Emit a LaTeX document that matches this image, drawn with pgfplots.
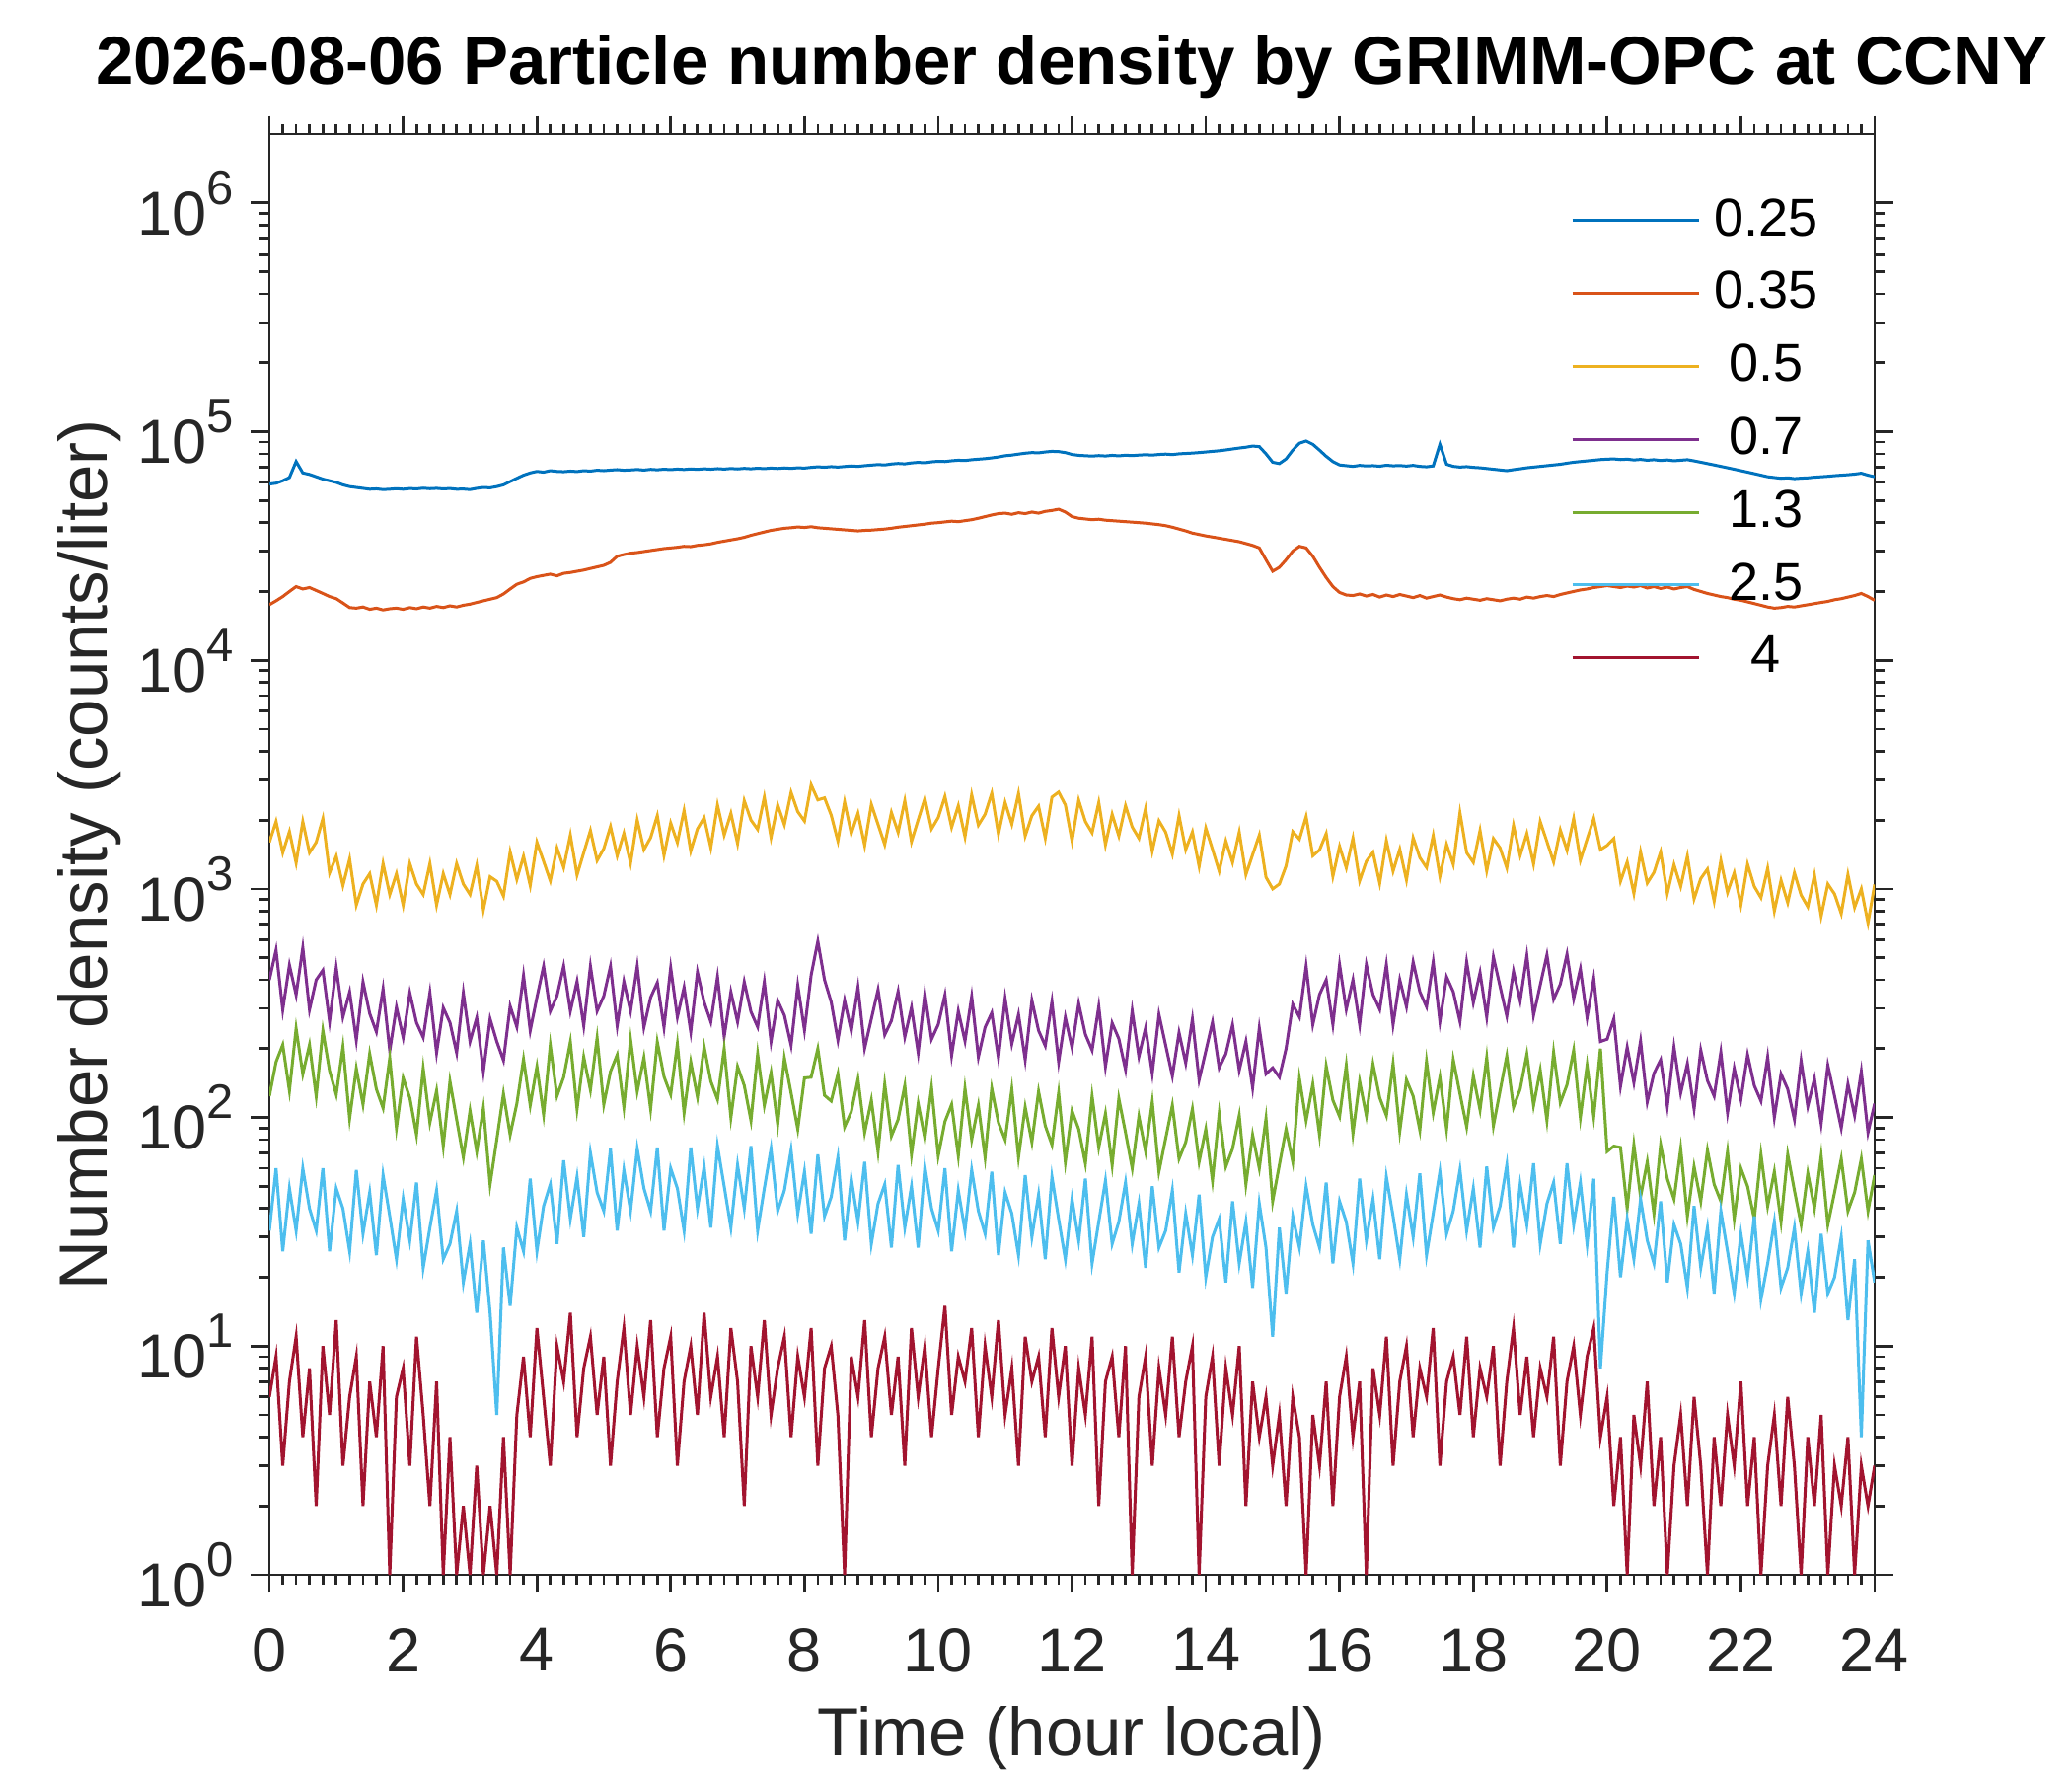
\documentclass[border=0pt]{standalone}
\usepackage{fontspec}
\setmainfont{Liberation Sans}
\usepackage{pgfplots}
\usepackage{pgfplotstable}
\pgfplotsset{compat=1.18}
\definecolor{c1}{rgb}{0,0.447,0.741}
\definecolor{c2}{rgb}{0.85,0.325,0.098}
\definecolor{c3}{rgb}{0.929,0.694,0.125}
\definecolor{c4}{rgb}{0.494,0.184,0.556}
\definecolor{c5}{rgb}{0.466,0.674,0.188}
\definecolor{c6}{rgb}{0.301,0.745,0.933}
\definecolor{c7}{rgb}{0.635,0.078,0.184}
\definecolor{axc}{rgb}{0.15,0.15,0.15}
\pgfplotstableread{
t B O Y P G C R
0.0 59000 17500 1600 400 124 32 6
0.1 59500 18200 1970 540 175 60 9
0.2 61000 19000 1440 296 208 26 3
0.3 63000 20000 1780 464 131 49 7
0.4 74000 21000 1300 344 245 32 11
0.5 66000 20500 1970 553 155 60 4
0.6 65000 20800 1440 296 208 40 8
0.7 63500 20200 1600 400 124 32 2
0.8 62000 19600 2030 441 240 60 10
0.9 61000 19000 1175 263 160 26 5
1.0 60000 18600 1390 452 126 49 13
1.1 58500 17800 1035 275 204 40 3
1.2 57500 17000 1350 354 99 26 6
1.3 57000 16900 850 218 164 59 9
1.4 56500 17100 1050 392 114 31 2
1.5 56000 16700 1165 285 190 47 7
1.6 56200 16900 850 237 133 25 4
1.7 55800 16600 1290 365 110 56 10
1.8 56000 16800 945 196 182 37 1
1.9 56300 16900 1165 304 90 24 6
2.0 56000 16700 850 224 149 44 8
2.1 56400 17000 1290 351 122 29 3
2.2 56200 16800 1050 260 84 52 11
2.3 56600 17100 945 224 164 22 5
2.4 56300 16900 1290 351 95 33 2
2.5 56500 17200 850 192 131 48 7
2.6 56200 17000 1165 302 75 24 1
2.7 56400 17300 945 260 144 28 4
2.8 56000 17100 1290 192 98 39 1
2.9 56100 17400 1050 351 67 19 2
3.0 55800 17600 945 215 107 28 1
3.1 56500 17900 1265 273 71 14 3
3.2 57000 18200 810 159 110 29 1
3.3 56800 18500 1130 270 51 14 2
3.4 57500 18800 1080 215 80 5 1
3.5 58500 19500 930 178 127 27 4
3.6 60500 20500 1450 307 84 15 1
3.7 62500 21500 1100 249 115 33 5
3.8 64500 22000 1390 418 180 26 9
3.9 66000 22800 1035 240 113 54 4
4.0 67000 23200 1600 335 167 26 12
4.1 66500 23500 1320 459 103 41 6
4.2 67500 23800 1085 292 207 51 3
4.3 67000 23400 1510 340 124 28 10
4.4 66800 24000 1240 459 150 65 7
4.5 67200 24200 1720 292 214 36 14
4.6 66900 24500 1150 394 109 55 4
4.7 67500 24800 1440 252 184 30 8
4.8 67200 25200 1800 459 132 70 11
4.9 67800 25600 1330 292 223 47 5
5.0 67500 26000 1500 340 114 39 9
5.1 67900 26800 1875 459 159 73 3
5.2 68200 28500 1395 252 188 32 7
5.3 67800 29000 1750 394 111 59 12
5.4 68000 29400 1295 292 220 39 5
5.5 68300 29600 2000 459 130 73 10
5.6 67900 29900 1485 248 183 49 6
5.7 68400 30200 1675 335 109 39 13
5.8 68100 30500 2090 389 214 74 4
5.9 68500 30800 1400 248 151 32 8
6.0 68200 31000 1940 452 126 60 11
6.1 68600 31200 1595 275 210 49 3
6.2 68300 31500 2200 371 105 32 7
6.3 68700 31400 1465 237 175 74 10
6.4 68400 31800 1830 432 123 40 5
6.5 68800 32000 2050 320 204 61 14
6.6 68500 32300 1515 262 144 33 6
6.7 68900 32800 2325 412 120 75 9
6.8 68600 33200 1720 226 200 50 4
6.9 69000 33600 2140 354 100 33 12
7.0 68700 34000 1580 262 167 62 7
7.1 69100 34500 2430 392 138 40 2
7.2 68800 35200 2000 290 97 75 10
7.3 69200 35800 1820 249 190 32 6
7.4 68900 36400 2520 392 113 49 13
7.5 69300 37000 1680 215 157 73 5
7.6 69000 37400 2330 325 93 39 8
7.7 69400 37800 1910 280 182 48 11
7.8 69100 38000 2640 207 128 72 4
7.9 69500 38300 2175 378 89 38 9
8.0 69300 38100 1980 241 149 58 6
8.1 69800 38400 2850 420 150 31 12
8.2 70200 38000 2450 590 200 69 3
8.3 69900 37800 2500 400 125 37 8
8.4 70300 37600 2100 320 118 45 10
8.5 70000 37400 1620 218 155 67 5
8.6 70400 37200 2400 325 91 29 1
8.7 70800 37000 1745 239 106 54 9
8.8 70500 36800 2140 371 147 35 6
8.9 71000 37000 1550 201 86 64 13
9.0 71400 37100 2340 270 119 28 4
9.1 71800 37300 1915 362 71 42 8
9.2 71500 37500 1565 230 140 51 11
9.3 72200 37800 2160 265 83 27 5
9.4 72600 38200 1765 356 98 62 9
9.5 72300 38500 2430 225 138 33 3
9.6 73000 38800 1610 303 69 50 12
9.7 73400 39100 2005 192 115 27 6
9.8 73100 39400 2485 348 81 61 10
9.9 73800 39800 1830 220 135 40 4
10.0 74200 40000 2050 255 68 32 8
10.1 74000 40300 2535 343 96 60 15
10.2 74600 40600 1860 187 114 26 5
10.3 75000 40400 2310 292 68 48 9
10.4 74800 40800 1690 216 134 32 7
10.5 75400 41200 2580 338 80 59 12
10.6 75800 41800 1900 184 113 39 4
10.7 76200 42500 2120 248 67 31 10
10.8 76800 43200 2620 287 134 58 6
10.9 77500 43800 1735 182 95 25 13
11.0 78500 44000 2385 331 80 47 5
11.1 79000 43500 1920 210 133 38 8
11.2 79800 44200 2610 282 67 25 3
11.3 80500 43800 1705 179 111 56 11
11.4 81000 44500 2090 325 78 30 7
11.5 80800 44000 2300 240 130 46 9
11.6 81500 44800 1670 206 92 24 4
11.7 82000 45200 2520 321 76 55 12
11.8 81800 45800 2650 175 128 36 6
11.9 81000 44500 2330 274 64 24 10
12.0 79500 42500 1620 202 107 44 3
12.1 78800 41800 2440 315 89 29 8
12.2 78500 41500 1970 231 63 54 5
12.3 78200 41200 1760 197 124 23 11
12.4 78600 41400 2385 306 74 35 2
12.5 78300 41000 1560 167 104 53 7
12.6 78800 40800 2120 259 62 28 9
12.7 78400 40600 1705 221 121 35 4
12.8 78900 40400 2310 162 86 52 10
12.9 78600 40200 1865 293 60 28 1
13.0 79000 40000 1665 185 101 42 6
13.1 79300 39800 2250 247 71 22 9
13.2 79000 39500 1465 156 117 50 3
13.3 79500 39200 1985 282 58 27 8
13.4 79800 38800 1770 207 81 32 5
13.5 79400 38200 1420 152 113 48 11
13.6 80000 37500 2090 235 66 21 4
13.7 80300 36800 1485 173 78 38 7
13.8 80600 36000 1775 269 109 25 10
13.9 81000 35500 1255 146 64 46 1
14.0 81500 35000 1845 195 89 20 6
14.1 82000 34600 1490 261 53 30 9
14.2 82500 34200 1195 165 104 36 3
14.3 83200 33800 1620 190 61 19 8
14.4 84000 33400 1305 254 73 43 5
14.5 84800 33000 1770 161 102 23 10
14.6 85500 32400 1155 215 51 35 2
14.7 86500 31800 1410 135 84 18 7
14.8 86000 31000 1720 246 60 42 4
14.9 80000 27500 1125 155 99 27 6
15.0 73500 24500 1000 165 43 11 3
15.1 72500 25500 1050 150 62 33 5
15.2 76000 27500 1260 200 89 17 2
15.3 83000 30000 1780 313 64 37 6
15.4 89000 31500 1650 275 148 27 4
15.5 91000 31000 2070 459 97 50 1
15.6 88000 28500 1395 255 140 34 5
15.7 83000 25500 1480 345 84 27 3
15.8 78000 23000 1745 400 168 52 7
15.9 74000 21000 1135 255 119 23 2
16.0 71500 19800 1535 466 101 43 6
16.1 71000 19300 1235 297 169 35 9
16.2 70500 19200 1665 400 85 23 4
16.3 71200 19500 1085 255 144 54 7
16.4 70800 19100 1320 466 102 29 1
16.5 71000 19400 1445 345 171 44 8
16.6 70600 18900 1060 297 122 24 5
16.7 71300 19300 1625 466 102 55 11
16.8 70900 19000 1195 255 172 37 3
16.9 71100 19400 1490 400 87 24 7
17.0 70700 19100 1095 305 146 46 10
17.1 71200 18800 1675 479 124 30 4
17.2 70500 19200 1370 355 88 57 8
17.3 70200 18700 1240 305 176 25 6
17.4 70800 19000 1710 479 105 38 12
17.5 88000 19300 1135 263 150 58 3
17.6 72000 18900 1565 412 89 31 7
17.7 70500 18600 1280 355 179 39 9
17.8 70000 18400 2150 263 127 59 5
17.9 70300 18700 1440 479 91 32 11
18.0 69800 18500 1305 318 152 49 4
18.1 69500 18300 1800 430 108 27 8
18.2 69000 18600 1200 275 183 61 6
18.3 68500 18400 1660 504 92 33 10
18.4 68000 18200 1510 374 131 41 3
18.5 67500 18500 1235 278 186 62 7
18.6 68200 18700 1895 436 111 27 12
18.7 68800 18500 1400 324 133 51 5
18.8 69500 18900 1745 510 189 34 9
18.9 70000 18700 1285 280 113 63 4
19.0 70500 19000 1970 380 161 28 8
19.1 71000 19200 1610 514 97 42 6
19.2 71500 19000 1310 329 193 52 11
19.3 72000 19400 1810 383 116 28 3
19.4 72800 19700 1475 518 139 63 7
19.5 73500 20000 2030 331 197 34 10
19.6 74000 20300 1335 447 100 52 5
19.7 74500 20500 1650 274 169 28 9
19.8 75000 20800 2030 405 101 54 12
19.9 75500 21000 1485 215 200 8 4
20.0 75800 21200 1550 220 71 21 6
20.1 76000 21000 1660 270 75 45 2
20.2 75500 20800 1080 137 74 20 4
20.3 75800 21100 1310 203 40 36 1
20.4 75200 20900 955 142 76 24 5
20.5 75600 21200 1450 216 45 44 3
20.6 75000 20700 1060 117 64 29 7
20.7 75400 21000 1180 156 38 23 2
20.8 74800 20600 1450 179 76 43 4
20.9 75200 20900 955 112 54 19 1
21.0 74600 20500 1275 203 44 34 3
21.1 75000 20800 1025 128 73 28 5
21.2 75400 21000 1390 172 37 18 2
21.3 74500 20400 905 109 61 41 6
21.4 73500 20000 1110 197 43 22 3
21.5 72500 19600 1220 145 72 33 1
21.6 71500 19300 885 124 51 17 4
21.7 70500 19000 1330 193 43 39 2
21.8 69500 18800 965 105 71 26 5
21.9 68500 18500 1175 164 36 17 3
22.0 67500 18300 850 120 60 31 7
22.1 66500 18000 1280 188 50 20 2
22.2 65500 17700 1025 138 36 37 4
22.3 64500 17400 915 118 69 16 1
22.4 63500 17100 1230 184 41 23 3
22.5 63000 16900 800 100 58 35 5
22.6 62500 17000 1090 155 35 18 2
22.7 62800 17200 870 133 69 22 6
22.8 62300 17100 1175 98 48 33 3
22.9 62600 17300 940 177 34 17 1
23.0 62800 17500 835 112 57 26 4
23.1 63200 17700 1150 148 40 14 2
23.2 63500 17900 760 94 68 31 5
23.3 63800 18100 1050 169 34 17 1
23.4 64200 18400 950 124 47 20 3
23.5 64500 18600 780 90 66 30 2
23.6 64800 18900 1155 140 39 13 4
23.7 65200 19200 830 102 47 24 1
23.8 65800 19600 1000 159 66 4 3
23.9 64500 19000 710 86 39 29 2
24.0 63500 18300 1045 115 56 19 3
}\data
\newcommand{\ytl}[1]{10\raisebox{6.2pt}{\fontsize{9.8}{10}\selectfont #1}}
\begin{document}
\begin{tikzpicture}
\path[use as bounding box] (-54.6pt,-40.8pt) rectangle (365.4pt,319.2pt);
\begin{axis}[
  at={(0pt,0pt)}, anchor=south west,
  width=325.4pt, height=292pt, scale only axis,
  ymode=log, log basis y=10,
  xmin=0, xmax=24, ymin=1, ymax=2e6,
  xtick={0,2,...,24}, minor x tick num=9,
  ytick={1,10,100,1000,10000,100000,1000000},
  yticklabels={\ytl{0},\ytl{1},\ytl{2},\ytl{3},\ytl{4},\ytl{5},\ytl{6}},
  minor ytick={2,3,4,5,6,7,8,9,20,30,40,50,60,70,80,90,200,300,400,500,600,700,800,900,2000,3000,4000,5000,6000,7000,8000,9000,20000,30000,40000,50000,60000,70000,80000,90000,200000,300000,400000,500000,600000,700000,800000,900000},
  tick align=outside,
  major tick length=3.7pt, minor tick length=2pt,
  axis line style={axc, line width=0.55pt},
  tick style={axc, line width=0.55pt},
  tick label style={font=\fontsize{12.6}{14}\selectfont, text=axc},
  xticklabel style={yshift=-3.6pt},
  /pgf/number format/assume math mode=true,
  xlabel={Time (hour local)},
  ylabel={Number density (counts/liter)},
  label style={font=\fontsize{13.8}{16}\selectfont, text=axc},
  xlabel style={at={(axis description cs:0.5,0)}, anchor=base, yshift=-36.6pt},
  ylabel style={at={(axis description cs:-0.1119,0.5)}, anchor=center},
  title={2026-08-06 Particle number density by GRIMM-OPC at CCNY},
  title style={at={(axis description cs:0.5,1)}, anchor=base, yshift=4.2pt, font=\bfseries\fontsize{13.8}{16}\selectfont, text=black},
  legend style={draw=none, fill=none, inner sep=0pt, outer sep=0pt,
    at={(axis description cs:1,1)}, anchor=north east, xshift=-11pt, yshift=-10.2pt,
    font=\fontsize{10.8}{12}\selectfont, row sep=0pt, column sep=2.3pt,
    nodes={inner sep=0pt, outer sep=0pt, minimum height=14.76pt, text width=22pt, align=center, anchor=center, text=black}},
  legend image code/.code={\draw[#1] (0pt,0pt) -- (25.7pt,0pt);},
]
\addplot[c1, line width=0.6pt] table[x=t, y=B] {\data};
\addplot[c2, line width=0.6pt] table[x=t, y=O] {\data};
\addplot[c3, line width=0.6pt] table[x=t, y=Y] {\data};
\addplot[c4, line width=0.6pt] table[x=t, y=P] {\data};
\addplot[c5, line width=0.6pt] table[x=t, y=G] {\data};
\addplot[c6, line width=0.6pt] table[x=t, y=C] {\data};
\addplot[c7, line width=0.6pt] table[x=t, y=R] {\data};
\legend{0.25,0.35,0.5,0.7,1.3,2.5,4}
\end{axis}
\end{tikzpicture}
\end{document}
